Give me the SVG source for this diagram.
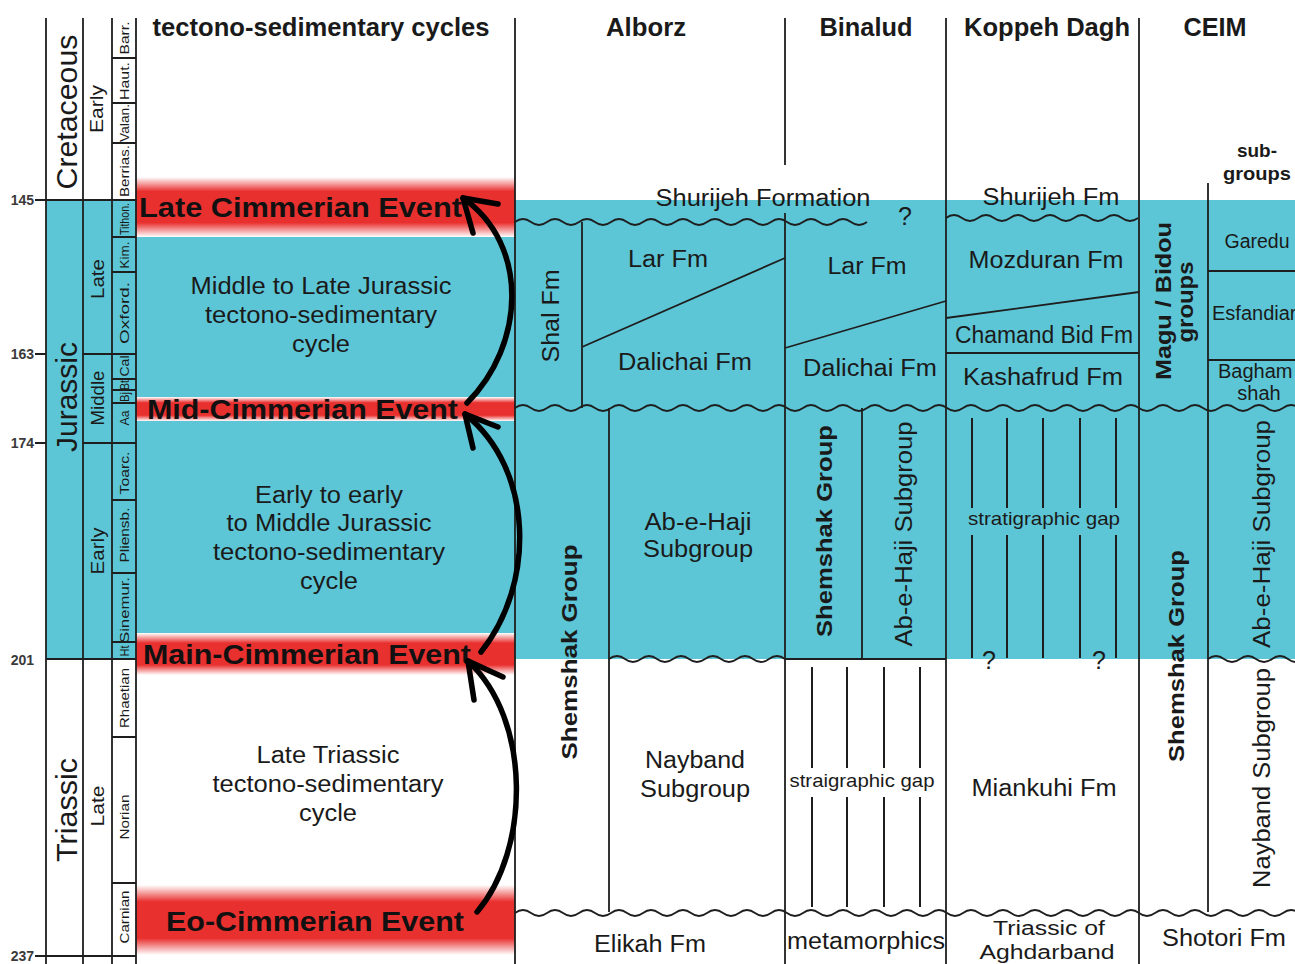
<svg xmlns="http://www.w3.org/2000/svg" width="1295" height="964" viewBox="0 0 1295 964">
<defs>
<style>
.ln{stroke:#1e1e1e;stroke-width:1.8;fill:none}
.gp{stroke:#1e1e1e;stroke-width:2;fill:none}
.wv{stroke:#1e1e1e;stroke-width:1.8;fill:none}
.t{font-family:"Liberation Sans",Arial,sans-serif;fill:#1a1a1a}
.b{font-weight:bold}
.c{text-anchor:middle}
.h{font-size:25px;font-weight:bold}
.f{font-size:23px}
.s{font-size:19px}
.ev{font-size:28px;font-weight:bold;fill:#111}
.per{font-size:30px}
.ep{font-size:18px}
.st{font-size:12.5px}
.tk{font-size:14px;font-weight:bold;fill:#3a3a3a;text-anchor:end}
.arr{stroke:#000;stroke-width:5.5;fill:none;stroke-linecap:round;stroke-linejoin:round}
</style>
<linearGradient id="rg" x1="0" y1="0" x2="0" y2="1">
<stop offset="0" stop-color="#ffffff"/>
<stop offset="0.24" stop-color="#e8302f"/>
<stop offset="0.76" stop-color="#e8302f"/>
<stop offset="1" stop-color="#ffffff"/>
</linearGradient>
</defs>
<rect x="0" y="0" width="1295" height="964" fill="#ffffff"/>
<rect id="jurassic-fill" x="46" y="200" width="1249" height="459" fill="#5dc6d6"/>

<g id="event-bands">
<rect x="136" y="177" width="379" height="60" fill="url(#rg)"/>
<rect x="136" y="397" width="379" height="24" fill="url(#rg)"/>
<rect x="136" y="633" width="379" height="42" fill="url(#rg)"/>
<rect x="136" y="885" width="379" height="70" fill="url(#rg)"/>
</g>

<g id="timescale">
<path class="ln" d="M46,18V964M83,18V964M112,18V964M136,18V964"/>
<path class="ln" d="M46,200H136M46,659H136M46,956H136M83,354H136M83,443H136"/>
<path class="ln" d="M112,58H136M112,103H136M112,143H136M112,237H136M112,272H136M112,379H136M112,390H136M112,403H136M112,500H136M112,573H136M112,642H136M112,737H136M112,883H136"/>
<path class="ln" d="M35,200H46M35,354H46M35,443H46M35,956H46"/>
<text class="t tk" x="34" y="205">145</text>
<text class="t tk" x="34" y="359">163</text>
<text class="t tk" x="34" y="448">174</text>
<text class="t tk" x="34" y="665">201</text>
<text class="t tk" x="34" y="961">237</text>
<text class="t per c" transform="translate(77,112) rotate(-90)" textLength="155" lengthAdjust="spacingAndGlyphs">Cretaceous</text>
<text class="t per c" transform="translate(77,397) rotate(-90)" textLength="110" lengthAdjust="spacingAndGlyphs">Jurassic</text>
<text class="t per c" transform="translate(77,810) rotate(-90)" textLength="104" lengthAdjust="spacingAndGlyphs">Triassic</text>
<text class="t ep c" transform="translate(103,109) rotate(-90)" textLength="48" lengthAdjust="spacingAndGlyphs">Early</text>
<text class="t ep c" transform="translate(104,279) rotate(-90)" textLength="40" lengthAdjust="spacingAndGlyphs">Late</text>
<text class="t ep c" transform="translate(104,398) rotate(-90)" textLength="55" lengthAdjust="spacingAndGlyphs">Middle</text>
<text class="t ep c" transform="translate(104,551) rotate(-90)" textLength="47" lengthAdjust="spacingAndGlyphs">Early</text>
<text class="t ep c" transform="translate(104,806) rotate(-90)" textLength="41" lengthAdjust="spacingAndGlyphs">Late</text>
<text class="t st c" transform="translate(129,38) rotate(-90)" textLength="33" lengthAdjust="spacingAndGlyphs">Barr.</text>
<text class="t st c" transform="translate(129,81) rotate(-90)" textLength="38" lengthAdjust="spacingAndGlyphs">Haut.</text>
<text class="t st c" transform="translate(129,123) rotate(-90)" textLength="38" lengthAdjust="spacingAndGlyphs">Valan.</text>
<text class="t st c" transform="translate(129,171) rotate(-90)" textLength="52" lengthAdjust="spacingAndGlyphs">Berrias.</text>
<text class="t st c" transform="translate(129,219) rotate(-90)" textLength="32" lengthAdjust="spacingAndGlyphs">Tithon.</text>
<text class="t st c" transform="translate(129,255) rotate(-90)" textLength="27" lengthAdjust="spacingAndGlyphs">Kim.</text>
<text class="t st c" transform="translate(129,313) rotate(-90)" textLength="62" lengthAdjust="spacingAndGlyphs">Oxford.</text>
<text class="t st c" transform="translate(129,366) rotate(-90)" textLength="21" lengthAdjust="spacingAndGlyphs">Cal</text>
<text class="t st c" transform="translate(129,385) rotate(-90)" textLength="10" lengthAdjust="spacingAndGlyphs">Bt</text>
<text class="t st c" transform="translate(129,397) rotate(-90)" textLength="10" lengthAdjust="spacingAndGlyphs">Bj</text>
<text class="t st c" transform="translate(129,418) rotate(-90)" textLength="15" lengthAdjust="spacingAndGlyphs">Aa</text>
<text class="t st c" transform="translate(129,473) rotate(-90)" textLength="43" lengthAdjust="spacingAndGlyphs">Toarc.</text>
<text class="t st c" transform="translate(129,535) rotate(-90)" textLength="55" lengthAdjust="spacingAndGlyphs">Pliensb.</text>
<text class="t st c" transform="translate(129,610) rotate(-90)" textLength="66" lengthAdjust="spacingAndGlyphs">Sinemur.</text>
<text class="t st c" transform="translate(129,651) rotate(-90)" textLength="11" lengthAdjust="spacingAndGlyphs">Ht</text>
<text class="t st c" transform="translate(129,698) rotate(-90)" textLength="60" lengthAdjust="spacingAndGlyphs">Rhaetian</text>
<text class="t st c" transform="translate(129,817) rotate(-90)" textLength="45" lengthAdjust="spacingAndGlyphs">Norian</text>
<text class="t st c" transform="translate(129,917) rotate(-90)" textLength="53" lengthAdjust="spacingAndGlyphs">Carnian</text>
</g>

<g id="column-lines">
<path class="ln" d="M515,18V964M785,18V165M785,213V964M946,18V964M1139,18V964M1208,183V912"/>
</g>

<g id="header">
<text class="t h c" x="321" y="36" textLength="337" lengthAdjust="spacingAndGlyphs">tectono-sedimentary cycles</text>
<text class="t h c" x="646" y="36" textLength="80" lengthAdjust="spacingAndGlyphs">Alborz</text>
<text class="t h c" x="866" y="36" textLength="93" lengthAdjust="spacingAndGlyphs">Binalud</text>
<text class="t h c" x="1047" y="36" textLength="166" lengthAdjust="spacingAndGlyphs">Koppeh Dagh</text>
<text class="t h c" x="1215" y="36" textLength="63" lengthAdjust="spacingAndGlyphs">CEIM</text>
<text class="t b c" x="1257" y="157" font-size="19" textLength="40" lengthAdjust="spacingAndGlyphs">sub-</text>
<text class="t b c" x="1257" y="180" font-size="19" textLength="68" lengthAdjust="spacingAndGlyphs">groups</text>
</g>

<g id="cycles">
<g id="cycle-mid-late-jurassic">
<text class="t f c" x="321" y="294" textLength="261" lengthAdjust="spacingAndGlyphs">Middle to Late Jurassic</text>
<text class="t f c" x="321" y="323" textLength="232" lengthAdjust="spacingAndGlyphs">tectono-sedimentary</text>
<text class="t f c" x="321" y="352" textLength="58" lengthAdjust="spacingAndGlyphs">cycle</text>
</g>
<g id="cycle-early-jurassic">
<text class="t f c" x="329" y="503" textLength="148" lengthAdjust="spacingAndGlyphs">Early to early</text>
<text class="t f c" x="329" y="531" textLength="205" lengthAdjust="spacingAndGlyphs">to Middle Jurassic</text>
<text class="t f c" x="329" y="560" textLength="232" lengthAdjust="spacingAndGlyphs">tectono-sedimentary</text>
<text class="t f c" x="329" y="589" textLength="58" lengthAdjust="spacingAndGlyphs">cycle</text>
</g>
<g id="cycle-late-triassic">
<text class="t f c" x="328" y="763" textLength="143" lengthAdjust="spacingAndGlyphs">Late Triassic</text>
<text class="t f c" x="328" y="792" textLength="231" lengthAdjust="spacingAndGlyphs">tectono-sedimentary</text>
<text class="t f c" x="328" y="821" textLength="58" lengthAdjust="spacingAndGlyphs">cycle</text>
</g>
</g>

<g id="events">
<text id="late-cimmerian" class="t ev" x="139" y="217" textLength="323" lengthAdjust="spacingAndGlyphs">Late Cimmerian Event</text>
<text id="mid-cimmerian" class="t ev" x="147" y="419" textLength="311" lengthAdjust="spacingAndGlyphs">Mid-Cimmerian Event</text>
<text id="main-cimmerian" class="t ev" x="143" y="664" textLength="328" lengthAdjust="spacingAndGlyphs">Main-Cimmerian Event</text>
<text id="eo-cimmerian" class="t ev" x="166" y="931" textLength="298" lengthAdjust="spacingAndGlyphs">Eo-Cimmerian Event</text>
</g>

<g id="waves">
<path class="wv" d="M515,222 q8,-6 16,0 t16,0 t16,0 t16,0 t16,0 t16,0 t16,0 t16,0 t16,0 t16,0 t16,0 t16,0 t16,0 t16,0 t16,0 t16,0 t16,0 t16,0 t16,0 t16,0 t16,0 t16,0"/>
<path class="wv" d="M946,218 q8,-6 16,0 t16,0 t16,0 t16,0 t16,0 t16,0 t16,0 t16,0 t16,0 t16,0 t16,0 t16,0"/>
<path class="wv" d="M515,408 q8,-6 16,0 t16,0 t16,0 t16,0 t16,0 t16,0 t16,0 t16,0 t16,0 t16,0 t16,0 t16,0 t16,0 t16,0 t16,0 t16,0 t16,0 t16,0 t16,0 t16,0 t16,0 t16,0 t16,0 t16,0 t16,0 t16,0 t16,0 t16,0 t16,0 t16,0 t16,0 t16,0 t16,0 t16,0 t16,0 t16,0 t16,0 t16,0 t16,0 t16,0 t16,0 t16,0 t16,0 t16,0 t16,0 t16,0 t16,0 t16,0 t16,0"/>
<path class="wv" d="M609,659 q8,-6 16,0 t16,0 t16,0 t16,0 t16,0 t16,0 t16,0 t16,0 t16,0 t16,0 t16,0"/>
<path class="wv" d="M1208,659 q8,-6 16,0 t16,0 t16,0 t16,0 t16,0 t16,0"/>
<path class="wv" d="M515,913 q8,-6 16,0 t16,0 t16,0 t16,0 t16,0 t16,0 t16,0 t16,0 t16,0 t16,0 t16,0 t16,0 t16,0 t16,0 t16,0 t16,0 t16,0 t16,0 t16,0 t16,0 t16,0 t16,0 t16,0 t16,0 t16,0 t16,0 t16,0 t16,0 t16,0 t16,0 t16,0 t16,0 t16,0 t16,0 t16,0 t16,0 t16,0 t16,0 t16,0 t16,0 t16,0 t16,0 t16,0 t16,0 t16,0 t16,0 t16,0 t16,0 t16,0"/>
</g>

<g id="alborz">
<path class="ln" d="M582,222V408M609,408V912M582,347L785,258"/>
<text class="t f c" x="763" y="206" textLength="215" lengthAdjust="spacingAndGlyphs">Shurijeh Formation</text>
<text class="t c" font-size="25" x="905" y="225">?</text>
<text class="t f c" transform="translate(559,316) rotate(-90)" textLength="93" lengthAdjust="spacingAndGlyphs">Shal Fm</text>
<text class="t f c" x="668" y="267" textLength="80" lengthAdjust="spacingAndGlyphs">Lar Fm</text>
<text class="t f c" x="685" y="370" textLength="134" lengthAdjust="spacingAndGlyphs">Dalichai Fm</text>
<text class="t b c" font-size="22" transform="translate(577,652) rotate(-90)" textLength="215" lengthAdjust="spacingAndGlyphs">Shemshak Group</text>
<text class="t f c" x="698" y="530" textLength="107" lengthAdjust="spacingAndGlyphs">Ab-e-Haji</text>
<text class="t f c" x="698" y="557" textLength="110" lengthAdjust="spacingAndGlyphs">Subgroup</text>
<text class="t f c" x="695" y="768" textLength="100" lengthAdjust="spacingAndGlyphs">Nayband</text>
<text class="t f c" x="695" y="797" textLength="110" lengthAdjust="spacingAndGlyphs">Subgroup</text>
<text class="t f c" x="650" y="952" textLength="112" lengthAdjust="spacingAndGlyphs">Elikah Fm</text>
</g>

<g id="binalud">
<path class="ln" d="M785,348L946,301M862,408V659M785,659H946"/>
<path class="gp" d="M812,667V768M847,667V768M884,667V768M920,667V768M812,797V907M847,797V907M884,797V907M920,797V907"/>
<text class="t f c" x="867" y="274" textLength="79" lengthAdjust="spacingAndGlyphs">Lar Fm</text>
<text class="t f c" x="870" y="376" textLength="134" lengthAdjust="spacingAndGlyphs">Dalichai Fm</text>
<text class="t b c" font-size="22" transform="translate(832,531) rotate(-90)" textLength="212" lengthAdjust="spacingAndGlyphs">Shemshak Group</text>
<text class="t f c" transform="translate(912,534) rotate(-90)" textLength="225" lengthAdjust="spacingAndGlyphs">Ab-e-Haji Subgroup</text>
<text class="t s c" x="862" y="787" textLength="145" lengthAdjust="spacingAndGlyphs">straigraphic gap</text>
<text class="t f c" x="866" y="949" textLength="158" lengthAdjust="spacingAndGlyphs">metamorphics</text>
</g>

<g id="koppeh-dagh">
<path class="ln" d="M946,318L1139,292M946,353H1139"/>
<path class="gp" d="M972,418V508M1007,418V508M1043,418V508M1080,418V508M1116,418V508M972,535V658M1007,535V658M1043,535V658M1080,535V658M1116,535V658"/>
<text class="t f c" x="1051" y="205" textLength="137" lengthAdjust="spacingAndGlyphs">Shurijeh Fm</text>
<text class="t f c" x="1046" y="268" textLength="155" lengthAdjust="spacingAndGlyphs">Mozduran Fm</text>
<text class="t f c" x="1044" y="343" textLength="178" lengthAdjust="spacingAndGlyphs">Chamand Bid Fm</text>
<text class="t f c" x="1043" y="385" textLength="160" lengthAdjust="spacingAndGlyphs">Kashafrud Fm</text>
<text class="t s c" x="1044" y="525" textLength="152" lengthAdjust="spacingAndGlyphs">stratigraphic gap</text>
<text class="t c" font-size="25" x="989" y="669">?</text>
<text class="t c" font-size="25" x="1099" y="669">?</text>
<text class="t f c" x="1044" y="796" textLength="145" lengthAdjust="spacingAndGlyphs">Miankuhi Fm</text>
<text class="t c" font-size="20" x="1049" y="935" textLength="112" lengthAdjust="spacingAndGlyphs">Triassic of</text>
<text class="t c" font-size="20" x="1047" y="959" textLength="135" lengthAdjust="spacingAndGlyphs">Aghdarband</text>
</g>

<g id="ceim">
<path class="ln" d="M1208,271H1295M1208,360H1295"/>
<text class="t b c" font-size="22" transform="translate(1171,301) rotate(-90)" textLength="158" lengthAdjust="spacingAndGlyphs">Magu / Bidou</text>
<text class="t b c" font-size="22" transform="translate(1193,302) rotate(-90)" textLength="81" lengthAdjust="spacingAndGlyphs">groups</text>
<text class="t c" font-size="20" x="1257" y="248" textLength="65" lengthAdjust="spacingAndGlyphs">Garedu</text>
<text class="t" font-size="20" x="1212" y="320">Esfandiar</text>
<text class="t" font-size="20" x="1218" y="378">Bagham</text>
<text class="t c" font-size="20" x="1259" y="400">shah</text>
<text class="t b c" font-size="22" transform="translate(1184,656) rotate(-90)" textLength="212" lengthAdjust="spacingAndGlyphs">Shemshak Group</text>
<text class="t f c" transform="translate(1270,534) rotate(-90)" textLength="228" lengthAdjust="spacingAndGlyphs">Ab-e-Haji Subgroup</text>
<text class="t f c" transform="translate(1270,778) rotate(-90)" textLength="220" lengthAdjust="spacingAndGlyphs">Nayband Subgroup</text>
<text class="t f c" x="1224" y="946" textLength="124" lengthAdjust="spacingAndGlyphs">Shotori Fm</text>
</g>

<g id="connectors">
<path class="arr" d="M477,912 C530,850 532,720 468,661"/>
<path class="arr" d="M503,677 L468,661 L474,700"/>
<path class="arr" d="M481,652 C535,585 535,470 465,414"/>
<path class="arr" d="M498,427 L465,414 L473,448"/>
<path class="arr" d="M467,403 C525,345 530,245 463,198"/>
<path class="arr" d="M498,204 L463,198 L473,233"/>
</g>
</svg>
